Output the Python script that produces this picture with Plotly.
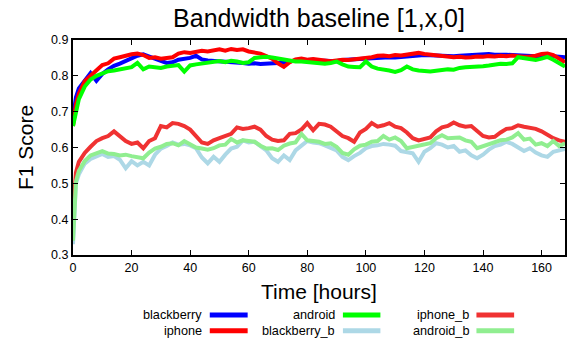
import plotly.graph_objects as go

hours = [0, 1] + list(range(2, 169, 2))

blackberry = [0.68, 0.74, 0.765, 0.785, 0.808, 0.786, 0.805, 0.818, 0.828, 0.834,
              0.842, 0.85, 0.856, 0.86, 0.855, 0.848, 0.842, 0.836, 0.838, 0.845,
              0.848, 0.85, 0.856, 0.846, 0.843, 0.842, 0.84, 0.84, 0.838, 0.839,
              0.836, 0.834, 0.835, 0.833, 0.834, 0.833, 0.836, 0.838, 0.841, 0.843,
              0.845, 0.844, 0.845, 0.843, 0.842, 0.843, 0.841, 0.844, 0.845, 0.846,
              0.847, 0.848, 0.85, 0.849, 0.851, 0.852, 0.851, 0.853, 0.855, 0.856,
              0.857, 0.858, 0.857, 0.856, 0.857, 0.856, 0.855, 0.856, 0.857, 0.858,
              0.859, 0.86, 0.861, 0.859, 0.86, 0.859, 0.858, 0.857, 0.856, 0.857,
              0.855, 0.856, 0.857, 0.855, 0.853, 0.852]

iphone = [0.66, 0.72, 0.75, 0.785, 0.80, 0.815, 0.83, 0.835, 0.848, 0.852,
          0.857, 0.86, 0.862, 0.858, 0.85, 0.852, 0.848, 0.85, 0.852, 0.862,
          0.866, 0.864, 0.868, 0.87, 0.868, 0.872, 0.874, 0.870, 0.875, 0.872,
          0.874, 0.868, 0.866, 0.862, 0.855, 0.848, 0.835, 0.825, 0.838, 0.846,
          0.848, 0.845, 0.847, 0.845, 0.843, 0.841, 0.843, 0.845, 0.844, 0.846,
          0.848, 0.848, 0.852, 0.856, 0.857, 0.855, 0.858, 0.857, 0.860, 0.862,
          0.864, 0.861, 0.859, 0.857, 0.856, 0.853, 0.852, 0.853, 0.851, 0.852,
          0.854, 0.853, 0.855, 0.854, 0.856, 0.855, 0.857, 0.855, 0.853, 0.854,
          0.856, 0.861, 0.862, 0.858, 0.848, 0.838]

android = [0.66, 0.70, 0.735, 0.77, 0.79, 0.80, 0.808, 0.813, 0.815, 0.818,
           0.82, 0.824, 0.836, 0.818, 0.826, 0.824, 0.822, 0.826, 0.828, 0.83,
           0.812, 0.829, 0.832, 0.834, 0.836, 0.84, 0.841, 0.838, 0.842, 0.84,
           0.836, 0.838, 0.85, 0.852, 0.853, 0.851, 0.848, 0.846, 0.843, 0.84,
           0.84, 0.838, 0.837, 0.835, 0.834, 0.836, 0.84, 0.832, 0.826, 0.825,
           0.824, 0.84, 0.826, 0.82, 0.818, 0.815, 0.811, 0.816, 0.826, 0.818,
           0.815, 0.813, 0.812, 0.814, 0.816, 0.818, 0.817, 0.822, 0.824, 0.825,
           0.824, 0.827, 0.829, 0.832, 0.834, 0.833, 0.835, 0.852, 0.849, 0.846,
           0.844, 0.848, 0.853, 0.845, 0.835, 0.826]

blackberry_b = [0.33, 0.50, 0.525, 0.555, 0.568, 0.575, 0.582, 0.574, 0.576, 0.566,
                0.542, 0.562, 0.55, 0.56, 0.55, 0.58, 0.597, 0.604, 0.614, 0.608,
                0.61, 0.606, 0.598, 0.572, 0.556, 0.574, 0.56, 0.58, 0.597, 0.602,
                0.62, 0.614, 0.616, 0.604, 0.592, 0.57, 0.56, 0.578, 0.565, 0.592,
                0.606, 0.618, 0.614, 0.612, 0.606, 0.598, 0.592, 0.574, 0.565, 0.576,
                0.585, 0.598, 0.604, 0.606, 0.61, 0.608, 0.605, 0.59, 0.586, 0.584,
                0.56, 0.588, 0.598, 0.612, 0.608, 0.6, 0.604, 0.588, 0.592, 0.578,
                0.57, 0.58, 0.594, 0.604, 0.608, 0.616, 0.61, 0.6, 0.59, 0.598,
                0.586, 0.578, 0.574, 0.588, 0.592, 0.596]

iphone_b = [0.42, 0.53, 0.56, 0.585, 0.602, 0.618, 0.626, 0.632, 0.645, 0.632,
            0.618, 0.61, 0.614, 0.598, 0.618, 0.626, 0.66, 0.656, 0.668, 0.666,
            0.66, 0.65, 0.63, 0.614, 0.61, 0.62, 0.626, 0.632, 0.638, 0.656,
            0.652, 0.654, 0.658, 0.65, 0.632, 0.622, 0.618, 0.62, 0.638, 0.64,
            0.65, 0.668, 0.648, 0.666, 0.664, 0.658, 0.644, 0.632, 0.626, 0.616,
            0.642, 0.652, 0.668, 0.658, 0.662, 0.668, 0.658, 0.654, 0.642, 0.626,
            0.62, 0.624, 0.628, 0.645, 0.656, 0.66, 0.67, 0.662, 0.658, 0.66,
            0.645, 0.632, 0.628, 0.63, 0.642, 0.652, 0.654, 0.662, 0.658, 0.654,
            0.652, 0.645, 0.635, 0.626, 0.62, 0.616]

android_b = [0.34, 0.505, 0.535, 0.562, 0.578, 0.584, 0.59, 0.583, 0.582, 0.578,
             0.58, 0.576, 0.574, 0.57, 0.586, 0.597, 0.602, 0.61, 0.612, 0.606,
             0.618, 0.61, 0.6, 0.597, 0.594, 0.598, 0.606, 0.608, 0.624, 0.614,
             0.62, 0.618, 0.616, 0.605, 0.597, 0.598, 0.593, 0.605, 0.611, 0.614,
             0.638, 0.62, 0.618, 0.616, 0.61, 0.612, 0.602, 0.585, 0.58, 0.595,
             0.605, 0.608, 0.616, 0.618, 0.632, 0.622, 0.628, 0.618, 0.598, 0.602,
             0.606, 0.61, 0.612, 0.626, 0.634, 0.626, 0.628, 0.628, 0.62, 0.616,
             0.598, 0.604, 0.61, 0.616, 0.62, 0.622, 0.628, 0.64, 0.622, 0.625,
             0.608, 0.612, 0.604, 0.618, 0.604, 0.612]

series_names = ["blackberry", "iphone", "android", "blackberry_b", "iphone_b", "android_b"]
series_values = [blackberry, iphone, android, blackberry_b, iphone_b, android_b]
series_colors = ["#0000ff", "#ff0000", "#00ff00", "#add8e6", "#f03232", "#90ee90"]

x_ticks = [0, 20, 40, 60, 80, 100, 120, 140, 160]
y_ticks = [0.3, 0.4, 0.5, 0.6, 0.7, 0.8, 0.9]

FONT = "Liberation Sans, Arial, sans-serif"

fig = go.Figure()
for name, vals, col in zip(series_names, series_values, series_colors):
    fig.add_trace(go.Scatter(x=hours, y=vals, mode="lines", name=name,
                             line=dict(color=col, width=4), showlegend=False))

# gnuplot-style legend (text right-aligned, sample line to the right), column-major
legend_cols = [(0.2655, 0.278, 0.355), (0.537, 0.5486, 0.6248), (0.8087, 0.820, 0.8966)]
legend_rows = [-0.279, -0.352]
annotations = []
shapes = []
for i, (name, col) in enumerate(zip(series_names, series_colors)):
    c, r = divmod(i, 2)
    tx, l0, l1 = legend_cols[c]
    ry = legend_rows[r]
    annotations.append(dict(text=name, x=tx, y=ry, xref="paper", yref="paper",
                            xanchor="right", yanchor="middle", showarrow=False,
                            font=dict(size=12.7, color="#000", family=FONT)))
    shapes.append(dict(type="line", xref="paper", yref="paper", x0=l0, x1=l1,
                       y0=ry, y1=ry, line=dict(color=col, width=5)))

annotations.append(dict(text="Time [hours]", x=0.5, y=-0.172, xref="paper", yref="paper",
                        xanchor="center", yanchor="middle", showarrow=False,
                        font=dict(size=21, color="#000", family=FONT)))
annotations.append(dict(text="F1 Score", x=-0.0965, y=0.5, xref="paper", yref="paper",
                        xanchor="center", yanchor="middle", showarrow=False, textangle=-90,
                        font=dict(size=21, color="#000", family=FONT)))

fig.update_layout(
    width=574, height=340,
    margin=dict(l=72.7, r=6.7, t=40, b=85),
    paper_bgcolor="white", plot_bgcolor="white",
    title=dict(text="Bandwidth baseline [1,x,0]", x=0.5, xref="paper", xanchor="center",
               y=1 - 18 / 340, yanchor="middle", yref="container",
               font=dict(size=25, color="#000", family=FONT)),
    font=dict(family=FONT, size=12, color="#000"),
    annotations=annotations, shapes=shapes,
    showlegend=False,
)
fig.update_xaxes(range=[0, 168], tickvals=x_ticks, ticktext=[str(v) for v in x_ticks],
                 ticks="inside", ticklen=5, tickwidth=1, tickcolor="#000",
                 showline=True, linecolor="#000", linewidth=2, mirror="ticks",
                 showgrid=False, zeroline=False,
                 tickfont=dict(size=12.5, color="#000", family=FONT))
fig.update_yaxes(range=[0.3, 0.9], tickvals=y_ticks, ticktext=[f"{v:.1f}" for v in y_ticks],
                 ticks="inside", ticklen=5, tickwidth=1, tickcolor="#000",
                 showline=True, linecolor="#000", linewidth=2, mirror="ticks",
                 showgrid=False, zeroline=False,
                 tickfont=dict(size=12.5, color="#000", family=FONT))

fig.write_html("out.html")
